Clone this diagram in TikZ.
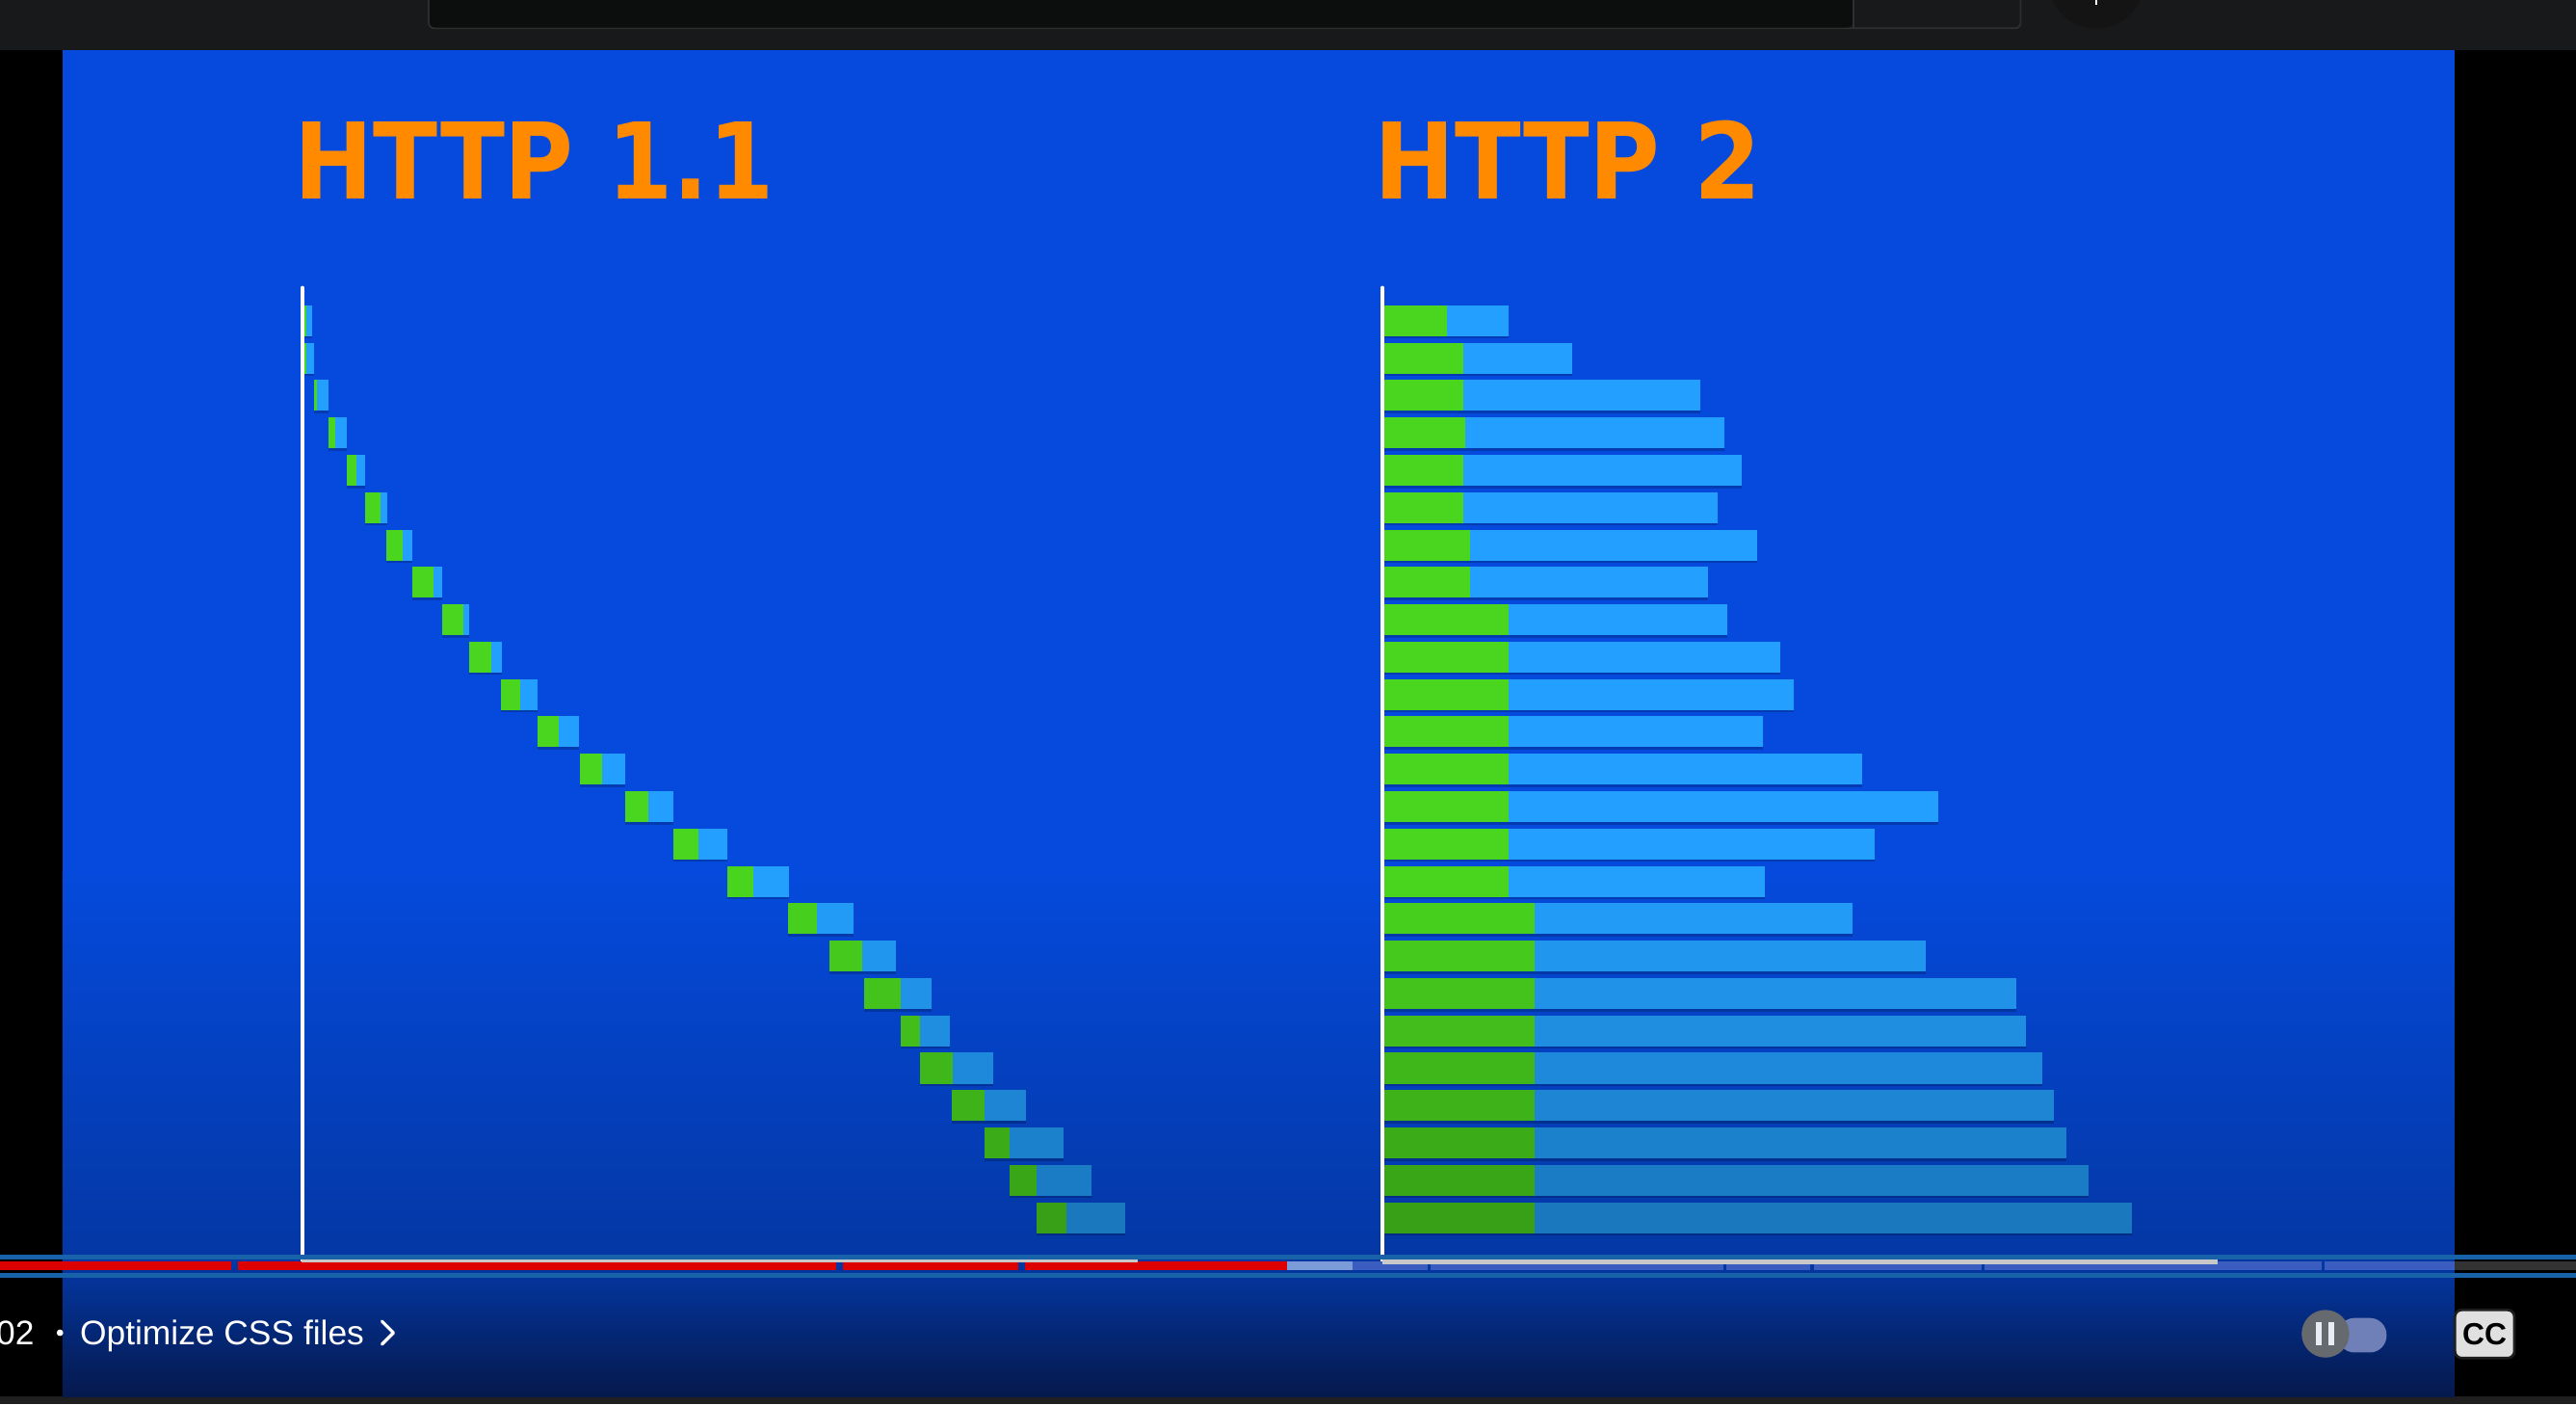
\documentclass[tikz,border=0pt]{standalone}
\usepackage{fontspec}
\usepackage{graphicx}
\setmainfont{Liberation Sans}
\newfontfamily\titlefont{DejaVu Sans}
\definecolor{panelblue}{HTML}{054ADC}
\definecolor{bargreen}{HTML}{4AD61E}
\definecolor{barblue}{HTML}{23A0FF}
\definecolor{titleorange}{HTML}{FF8A00}
\definecolor{topbar}{HTML}{18191B}
\definecolor{searchbox}{HTML}{0C0D0D}
\definecolor{searchedge}{HTML}{2E2F31}
\definecolor{ytred}{HTML}{DD0000}
\definecolor{band}{HTML}{1762A8}
\definecolor{axisgray}{HTML}{C8C8C8}
\definecolor{buffered}{HTML}{7B9BD9}
\definecolor{unplayed}{HTML}{3B5DC0}
\definecolor{lowblue}{HTML}{05194C}

\begin{document}
\begin{tikzpicture}[x=0.01cm, y=-0.01cm,
  httptitle/.style={text=titleorange, font=\titlefont\bfseries, inner sep=0pt, anchor=north west},
  ctrltext/.style={text=white, font=\fontsize{5.9pt}{7pt}\selectfont, inner sep=0pt},
  axisline/.style={white, line width=0.6pt, line cap=round},
  ccbtn/.style={draw=black!88, fill=black!12, line width=0.45pt, rounded corners=1.2pt, minimum width=0.362cm, minimum height=0.293cm, inner sep=0pt, font=\bfseries\fontsize{5.3pt}{6pt}\selectfont}]
    \useasboundingbox (0,0) rectangle (1568,854.4);
    % frame
    \fill[black] (0,0) rectangle (1568,854.4);
    \fill[topbar] (0,0) rectangle (1568,30.3);
    \fill[black!88] (0,849.7) rectangle (1568,854.4);
    \draw[fill=topbar, draw=searchedge, line width=0.3pt, rounded corners=1pt] (261,-5) rectangle (1230,17.2);
    \fill[searchbox, rounded corners=1pt] (261.4,-5) rectangle (1128,16.8);
    \draw[searchedge, line width=0.3pt] (1128,-5) -- (1128,17.2);
    \fill[black!92] (1276,-11.5) circle [radius=29];
    \draw[white, line width=0.3pt] (1276,0) -- (1276,2.7);
    % panel
    \fill[panelblue] (38,30.3) rectangle (1494,530);
    \shade[top color=panelblue, bottom color=panelblue!74!black] (38,530) rectangle (1494,770);
    \shade[top color=panelblue!74!black, bottom color=lowblue] (38,770) rectangle (1494,849.7);
    % titles
    \node[httptitle] (titleone) at (178.6,73.3) {\resizebox{2.92cm}{0.469cm}{HTTP 1.1}};
    \node[httptitle] (titletwo) at (835.5,72.5) {\resizebox{2.36cm}{0.477cm}{HTTP 2}};
    % http 1.1 bars
    \foreach \i/\xa/\xb/\xc in {1/185.0/186.6/190.0, 2/185.0/186.6/191.1, 3/190.9/192.7/200.1, 4/199.9/204.3/211.1, 5/211.1/216.7/222.1, 6/222.1/231.5/235.5, 7/235.3/245.4/251.2, 8/251.2/263.6/269.2, 9/269.0/281.8/285.6, 10/285.6/299.3/305.3, 11/305.1/316.5/327.1, 12/327.3/340.1/352.7, 13/353.0/366.7/380.5, 14/380.5/394.9/410.0, 15/410.0/425.0/442.8, 16/442.8/458.3/480.1, 17/479.8/497.1/519.3, 18/504.7/525.1/545.4, 19/525.8/548.0/567.2, 20/548.0/560.0/578.4, 21/560.0/579.9/604.8, 22/579.6/599.0/624.6, 23/599.0/614.6/647.1, 24/614.6/630.8/664.6, 25/630.8/649.3/684.7} {
        \pgfmathsetmacro\t{185.8+(\i-1)*22.74}
        \pgfmathsetmacro\dk{100-25*min(1,max(0,(\t-520.6)/210))}
        \colorlet{gcol}{bargreen!\dk!black}
        \colorlet{bcol}{barblue!\dk!black}
        \colorlet{scol}{panelblue!\dk!black!80!black}
        \fill[scol] (\xa,\t+18.8) rectangle (\xc,\t+20.3);
        \fill[gcol] (\xa,\t) rectangle (\xb,\t+18.8);
        \fill[bcol] (\xb,\t) rectangle (\xc,\t+18.8);
    }
    % http 2 bars
    \foreach \i/\xb/\xc in {1/880.6/918.5, 2/890.8/956.7, 3/890.8/1035.0, 4/892.1/1049.4, 5/890.8/1060.2, 6/890.8/1045.5, 7/894.7/1069.3, 8/894.7/1039.5, 9/918.5/1051.3, 10/918.5/1083.5, 11/918.5/1092.1, 12/918.5/1073.2, 13/918.5/1133.7, 14/918.5/1180.1, 15/918.5/1141.2, 16/918.5/1074.3, 17/933.9/1127.7, 18/933.9/1171.9, 19/933.9/1227.1, 20/933.9/1233.2, 21/933.9/1243.0, 22/933.9/1250.4, 23/933.9/1258.0, 24/933.9/1271.5, 25/933.9/1297.9} {
        \pgfmathsetmacro\t{185.8+(\i-1)*22.74}
        \pgfmathsetmacro\dk{100-25*min(1,max(0,(\t-520.6)/210))}
        \colorlet{gcol}{bargreen!\dk!black}
        \colorlet{bcol}{barblue!\dk!black}
        \colorlet{scol}{panelblue!\dk!black!80!black}
        \fill[scol] (842.6,\t+18.8) rectangle (\xc,\t+20.3);
        \fill[gcol] (842.6,\t) rectangle (\xb,\t+18.8);
        \fill[bcol] (\xb,\t) rectangle (\xc,\t+18.8);
    }
    % axes
    \draw[axisline] (184,175) -- (184,767);
    \draw[axisline] (841.5,175) -- (841.5,767);
    % progress bar
    \fill[band] (0,763.2) rectangle (1568,766.2);
    \fill[band] (0,774.6) rectangle (1568,777.5);
    \foreach \a/\b in {0/140.8, 144.7/508.8, 512.8/620, 624/783.7}
        \fill[ytred] (\a,767.7) rectangle (\b,773);
    \fill[buffered] (783.7,767.7) rectangle (823,773);
    \foreach \a/\b in {823/869, 871/1049, 1051/1102, 1104/1206, 1208/1413, 1415/1494}
        \fill[unplayed] (\a,767.7) rectangle (\b,773);
    \fill[black!80] (1494,767.7) rectangle (1568,773);
    \fill[axisgray] (183.5,766.2) rectangle (692.8,768);
    \fill[axisgray] (841.5,766.3) rectangle (1350,769.5);
    % chapter label
    \node[ctrltext, anchor=base east] (chapnum) at (21.5,818.5) {02};
    \fill[white] (36.5,811) circle [radius=2];
    \node[ctrltext, anchor=base west] (chapter) at (48,818.5) {Optimize CSS files};
    \draw[white, line width=0.55pt, line cap=round, line join=round] (232.5,804) -- (239.5,811) -- (232.5,818);
    % toggle and cc
    \fill[fill={rgb,255:red,111;green,128;blue,184}, rounded corners=2.9pt] (1423,802) rectangle (1452.7,823);
    \fill[fill={rgb,255:red,102;green,105;blue,110}] (1415.5,811.6) circle [radius=14.5];
    \fill[fill={rgb,255:red,232;green,236;blue,245}] (1409.9,804.3) rectangle (1413.2,818.4);
    \fill[fill={rgb,255:red,232;green,236;blue,245}] (1417.1,804.3) rectangle (1420.8,818.4);
    \node[ccbtn] (ccbutton) at (1512.4,811.75) {CC};
\end{tikzpicture}
\end{document}
